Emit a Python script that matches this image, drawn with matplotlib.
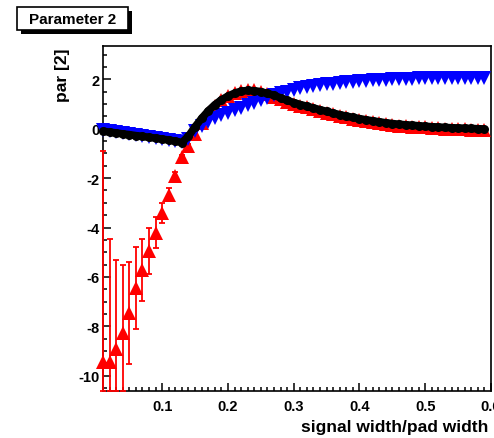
import matplotlib
matplotlib.use("Agg")
import matplotlib.pyplot as plt
from matplotlib.patches import Rectangle
from matplotlib.ticker import MultipleLocator

plt.rcParams['font.family'] = ['Liberation Sans', 'DejaVu Sans']
plt.rcParams['font.weight'] = 'bold'
plt.rcParams['axes.unicode_minus'] = False

x = [0.01, 0.02, 0.03, 0.04, 0.05, 0.06, 0.07, 0.08, 0.09, 0.10,
     0.11, 0.12, 0.13, 0.14, 0.15, 0.16, 0.17, 0.18, 0.19, 0.20,
     0.21, 0.22, 0.23, 0.24, 0.25, 0.26, 0.27, 0.28, 0.29, 0.30,
     0.31, 0.32, 0.33, 0.34, 0.35, 0.36, 0.37, 0.38, 0.39, 0.40,
     0.41, 0.42, 0.43, 0.44, 0.45, 0.46, 0.47, 0.48, 0.49, 0.50,
     0.51, 0.52, 0.53, 0.54, 0.55, 0.56, 0.57, 0.58, 0.59]

red_y = [-9.45, -9.45, -8.92, -8.27, -7.47, -6.45, -5.73, -4.96, -4.21, -3.41,
         -2.67, -1.90, -1.15, -0.69, -0.21, 0.25, 0.62, 0.92, 1.15, 1.33,
         1.46, 1.54, 1.57, 1.55, 1.47, 1.39, 1.30, 1.20, 1.10, 1.01,
         0.93, 0.86, 0.79, 0.72, 0.65, 0.58, 0.52, 0.46, 0.41, 0.36,
         0.31, 0.27, 0.23, 0.19, 0.16, 0.13, 0.11, 0.09, 0.07, 0.05,
         0.03, 0.02, 0.00, -0.01, -0.02, -0.03, -0.04, -0.05, -0.06]

red_err = [8.56, 4.98, 3.62, 2.77, 2.06, 1.66, 1.26, 0.93, 0.63, 0.40,
           0.25, 0.15, 0.10, 0.08, 0.06, 0.05, 0.05, 0.05, 0.05, 0.05,
           0.05, 0.05, 0.05, 0.05, 0.05, 0.05, 0.05, 0.05, 0.05, 0.05,
           0.05, 0.05, 0.05, 0.05, 0.05, 0.05, 0.05, 0.05, 0.05, 0.05,
           0.05, 0.05, 0.05, 0.05, 0.05, 0.05, 0.05, 0.05, 0.05, 0.05,
           0.05, 0.05, 0.05, 0.05, 0.05, 0.05, 0.05, 0.05, 0.05]

black_y = [-0.10, -0.14, -0.17, -0.21, -0.24, -0.28, -0.31, -0.35, -0.38, -0.42,
           -0.46, -0.50, -0.56, -0.30, 0.08, 0.42, 0.72, 0.97, 1.17, 1.32,
           1.44, 1.52, 1.55, 1.54, 1.50, 1.43, 1.35, 1.25, 1.15, 1.06,
           0.98, 0.91, 0.84, 0.77, 0.70, 0.63, 0.57, 0.51, 0.46, 0.41,
           0.36, 0.32, 0.28, 0.24, 0.21, 0.18, 0.16, 0.14, 0.12, 0.10,
           0.08, 0.07, 0.05, 0.04, 0.03, 0.02, 0.01, 0.00, -0.01]

blue_y = [-0.04, -0.08, -0.12, -0.16, -0.20, -0.24, -0.28, -0.32, -0.36, -0.40,
          -0.44, -0.48, -0.52, -0.40, -0.10, 0.12, 0.28, 0.42, 0.55, 0.65,
          0.75, 0.85, 0.96, 1.06, 1.16, 1.26, 1.35, 1.43, 1.50, 1.57,
          1.63, 1.68, 1.72, 1.76, 1.80, 1.83, 1.86, 1.88, 1.90, 1.92,
          1.94, 1.96, 1.97, 1.98, 2.00, 2.01, 2.02, 2.03, 2.04, 2.05,
          2.05, 2.06, 2.06, 2.06, 2.07, 2.07, 2.07, 2.07, 2.07]

xlim = (0.01, 0.6)
ylim = (-10.62, 3.35)

W, H = 494, 439
fig = plt.figure(figsize=(W / 100, H / 100), dpi=100)
fig.patch.set_facecolor('white')
ax = fig.add_axes([103 / W, 1 - 392 / H, (491 - 103) / W, (392 - 47) / H])
ax.set_xlim(*xlim)
ax.set_ylim(*ylim)

# error bars (lower part clipped at the frame, like ROOT)
lo = [min(e, y - ylim[0]) for y, e in zip(red_y, red_err)]
ax.errorbar(x, red_y, yerr=[lo, red_err], fmt='none', ecolor='#ff0000',
            elinewidth=1.3, capsize=2.5, capthick=1.3, clip_on=False, zorder=3)
ax.plot(x, red_y, linestyle='none', marker='^', ms=10.5, mew=0,
        color='#ff0000', clip_on=False, zorder=4)
ax.plot(x, blue_y, linestyle='none', marker='v', ms=10.5, mew=0,
        color='#0000ff', clip_on=False, zorder=5)
ax.plot(x, black_y, linestyle='-', lw=5.5, marker='o', ms=6.5, mew=0,
        color='black', clip_on=False, zorder=6, solid_capstyle='butt')

for s in ax.spines.values():
    s.set_linewidth(1.2)
    s.set_color('black')

ax.xaxis.set_major_locator(MultipleLocator(0.1))
ax.xaxis.set_minor_locator(MultipleLocator(0.01))
ax.yaxis.set_major_locator(MultipleLocator(2))
ax.yaxis.set_minor_locator(MultipleLocator(0.5))
ax.tick_params(which='both', direction='in', top=False, right=False, width=1.1, color='black')
ax.tick_params(which='major', length=6)
ax.tick_params(which='minor', length=3)
ax.tick_params(axis='x', which='major', pad=6, labelsize=10.5)
ax.tick_params(axis='y', which='major', pad=2.5, labelsize=10.5)
ax.set_xticks([0.1, 0.2, 0.3, 0.4, 0.5, 0.6])
ax.set_xticklabels(['0.1', '0.2', '0.3', '0.4', '0.5', '0.6'])
for lab in ax.get_xticklabels() + ax.get_yticklabels():
    lab.set_fontweight('bold')

fig.text(488 / W, 1 - 428 / H, 'signal width/pad width', ha='right', va='center',
         fontsize=12.5, fontweight='bold')
fig.text(62 / W, 1 - 48 / H, 'par [2]', ha='center', va='top', rotation=90,
         fontsize=12.5, fontweight='bold')

# title box with shadow
bx0, bx1, by0, by1 = 17, 128, 8, 31
sh = 4
fig.patches.append(Rectangle(((bx0 + sh) / W, 1 - (by1 + sh) / H), (bx1 - bx0) / W,
                             (by1 - by0) / H, transform=fig.transFigure,
                             facecolor='black', edgecolor='black', lw=0))
fig.patches.append(Rectangle((bx0 / W, 1 - by1 / H), (bx1 - bx0) / W,
                             (by1 - by0) / H, transform=fig.transFigure,
                             facecolor='white', edgecolor='black', lw=1.2))
fig.text((bx0 + bx1) / 2 / W, 1 - (by0 + by1) / 2 / H, 'Parameter 2', ha='center',
         va='center', fontsize=11, fontweight='bold')

fig.savefig('out.png', dpi=100, facecolor='white')
